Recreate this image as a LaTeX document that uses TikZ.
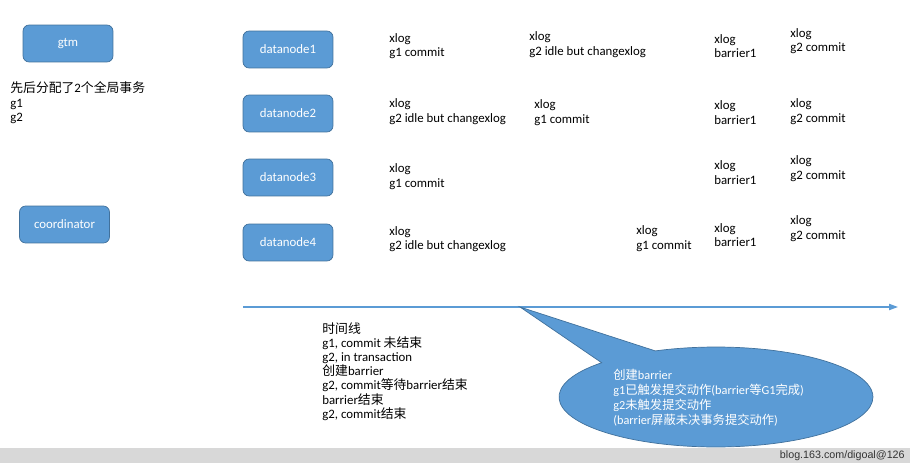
\documentclass[tikz,border=0pt]{standalone}
\usepackage{fontspec}
\setmainfont{Carlito}
\newfontfamily\cjk{Noto Sans CJK SC}
\newfontfamily\webfont{Liberation Sans}
\usepackage{tikz}
\usetikzlibrary{arrows.meta,shapes.callouts}
\definecolor{boxfill}{RGB}{91,155,213}
\definecolor{boxline}{RGB}{65,113,156}
\definecolor{barfill}{RGB}{216,216,216}
\newcommand{\zh}[1]{{\cjk #1}}

\begin{document}
\begin{tikzpicture}[x=0.02cm, y=-0.02cm,
    nodebox/.style={draw=boxline, fill=boxfill, rounded corners=3.5pt, minimum width=1.8cm, minimum height=0.74cm, text=white, font=\fontsize{7.3}{8.4}\selectfont},
    logtext/.style={anchor=west, align=left, inner sep=0pt, font=\fontsize{7.3}{8.3}\selectfont}]
    \useasboundingbox (0,0) rectangle (910,463);

    % Boxes
    \node[nodebox] (gtm) at (68,43.5) {gtm};
    \node[nodebox] (coord) at (64.5,224.5) {coordinator};
    \foreach \i/\y in {1/49.5, 2/113.5, 3/177.5, 4/242.5}
        \node[nodebox] (dn\i) at (288,\y) {datanode\i};

    \node[logtext] (alloc) at (10,103) {\zh{先后分配了}2\zh{个全局事务}\\g1\\g2};

    % datanode1
    \node[logtext] (l11) at (389,46) {xlog\\g1 commit};
    \node[logtext] (l12) at (529,44.5) {xlog\\g2 idle but changexlog};
    \node[logtext] (l13) at (714,46) {xlog\\barrier1};
    \node[logtext] (l14) at (790,41) {xlog\\g2 commit};
    % datanode2
    \node[logtext] (l21) at (389,111.5) {xlog\\g2 idle but changexlog};
    \node[logtext] (l22) at (534,112.5) {xlog\\g1 commit};
    \node[logtext] (l23) at (714,112.5) {xlog\\barrier1};
    \node[logtext] (l24) at (790,111.5) {xlog\\g2 commit};
    % datanode3
    \node[logtext] (l31) at (389,176.5) {xlog\\g1 commit};
    \node[logtext] (l33) at (714,172.5) {xlog\\barrier1};
    \node[logtext] (l34) at (790,168.5) {xlog\\g2 commit};
    % datanode4
    \node[logtext] (l41) at (389,239) {xlog\\g2 idle but changexlog};
    \node[logtext] (l42) at (636,238.5) {xlog\\g1 commit};
    \node[logtext] (l43) at (714,235) {xlog\\barrier1};
    \node[logtext] (l44) at (790,228.5) {xlog\\g2 commit};

    % Time line
    \coordinate (tstart) at (243,307);
    \coordinate (tend) at (898,307);
    \coordinate (tip) at (520,307);
    \draw[boxfill, line width=0.7pt, -{Triangle[length=5pt,width=3.5pt]}] (tstart) -- (tend);

    \node[logtext, font=\fontsize{7.3}{8.05}\selectfont] (steps) at (322,371.5)
        {\zh{时间线}\\g1, commit \zh{未结束}\\g2, in transaction\\\zh{创建}barrier\\g2, commit\zh{等待}barrier\zh{结束}\\barrier\zh{结束}\\g2, commit\zh{结束}};

    % Callout
    \node[ellipse callout, draw=boxline, fill=boxfill, minimum width=6.28cm, minimum height=2cm,
        inner sep=0pt, callout absolute pointer={(tip)}, callout pointer arc=24] (note) at (716,397) {};
    \node[logtext, text=white, font=\fontsize{7}{8.6}\selectfont] (notetext) at (613,397.5)
        {\zh{创建}barrier\\g1\zh{已触发提交动作}(barrier\zh{等}G1\zh{完成})\\g2\zh{未触发提交动作}\\(barrier\zh{屏蔽未决事务提交动作})};

    % Footer
    \fill[barfill] (0,448) rectangle (910,463);
    \node[anchor=east, inner sep=0pt, font=\webfont\fontsize{6.1}{8}\selectfont, text=black!80] (blog) at (905,455.5) {blog.163.com/digoal@126};
\end{tikzpicture}
\end{document}
